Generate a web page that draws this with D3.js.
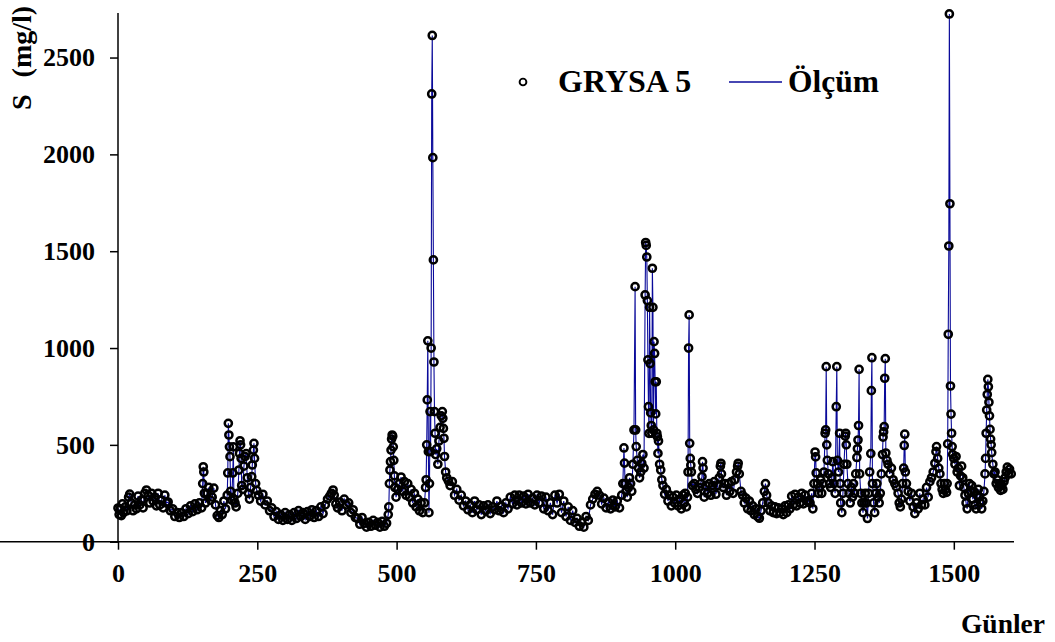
<!DOCTYPE html>
<html>
<head>
<meta charset="utf-8">
<script src="https://cdn.jsdelivr.net/npm/d3@7"></script>
<style>
  html, body { margin: 0; padding: 0; background: #fff; }
  svg { display: block; }
  text { font-family: "Liberation Serif", "Times New Roman", serif; font-weight: bold; fill: #000; }
</style>
</head>
<body>
<svg id="chart" width="1055" height="642"></svg>
<script>
// Day index of each measurement (Günler)
const days = [
  0,2,4,6,8,10,13,16,19,21,
  24,27,30,33,36,39,42,45,48,51,
  54,57,60,63,66,69,72,75,78,81,
  84,87,90,94,98,102,106,110,114,118,
  122,126,130,134,138,142,146,150,152,153,
  154,155,157,160,163,166,169,172,175,178,
  181,184,187,190,193,196,197,198,199,200,
  201,202,204,206,207,208,210,212,215,217,
  218,219,220,221,222,224,226,228,230,232,
  234,236,238,240,241,243,244,245,247,249,
  252,256,260,264,268,272,276,280,284,288,
  292,296,300,304,308,312,316,320,324,328,
  332,336,340,344,348,352,356,360,364,368,
  372,376,380,383,386,388,391,394,398,402,
  406,410,414,418,422,426,430,434,438,442,
  446,450,454,458,462,466,470,474,478,482,
  485,486,487,488,489,490,491,492,493,494,
  495,496,497,499,502,505,508,511,514,517,
  520,523,526,529,532,535,538,541,544,547,
  550,552,553,554,555,556,557,558,559,560,
  561,562,563,564,565,566,567,568,569,570,
  572,574,576,578,580,582,583,584,585,586,
  588,590,593,596,600,604,608,612,616,620,
  624,628,632,636,640,644,648,652,656,660,
  664,668,672,676,680,684,688,692,696,700,
  704,708,712,716,720,724,728,732,736,740,
  744,748,752,756,760,764,768,772,776,780,
  784,788,792,796,800,804,808,812,816,820,
  824,828,832,836,840,844,848,852,856,860,
  864,868,872,876,880,884,888,892,896,900,
  904,906,908,909,910,912,914,916,918,920,
  922,924,926,928,929,930,932,934,936,938,
  940,942,944,946,947,948,949,950,951,952,
  953,954,955,956,957,958,959,960,961,962,
  963,964,965,966,967,968,969,970,972,974,
  976,978,981,984,987,990,993,996,999,1002,
  1005,1008,1011,1014,1016,1018,1020,1022,1023,1024,
  1025,1026,1027,1028,1029,1031,1034,1037,1040,1043,
  1046,1048,1049,1050,1052,1055,1058,1061,1064,1067,
  1070,1073,1076,1079,1081,1082,1083,1086,1089,1092,
  1095,1098,1101,1104,1107,1110,1112,1113,1115,1118,
  1121,1124,1127,1130,1133,1136,1139,1142,1145,1148,
  1151,1154,1157,1160,1162,1164,1167,1170,1173,1176,
  1179,1182,1185,1188,1191,1194,1197,1200,1203,1206,
  1209,1212,1215,1218,1221,1224,1227,1230,1233,1236,
  1239,1242,1245,1247,1249,1251,1252,1253,1255,1257,
  1259,1261,1263,1265,1267,1269,1270,1271,1272,1273,
  1275,1277,1279,1281,1283,1285,1287,1289,1290,1291,
  1293,1295,1296,1297,1299,1301,1303,1305,1306,1307,
  1308,1310,1312,1314,1316,1318,1320,1322,1324,1326,
  1327,1328,1329,1330,1331,1333,1335,1337,1339,1341,
  1343,1345,1347,1349,1351,1352,1353,1354,1356,1358,
  1360,1362,1364,1366,1368,1370,1372,1373,1374,1375,
  1376,1377,1378,1380,1382,1385,1388,1391,1394,1397,
  1400,1402,1404,1406,1408,1410,1411,1412,1413,1415,
  1418,1421,1424,1427,1430,1433,1436,1439,1442,1445,
  1448,1451,1454,1457,1460,1463,1466,1468,1469,1471,
  1473,1475,1477,1479,1481,1483,1485,1487,1488,1489,
  1490,1491,1492,1493,1494,1495,1496,1497,1498,1500,
  1502,1504,1506,1508,1510,1512,1514,1516,1518,1520,
  1522,1524,1526,1528,1530,1532,1534,1536,1538,1540,
  1542,1544,1546,1548,1550,1552,1554,1556,1557,1558,
  1559,1560,1561,1562,1563,1564,1565,1566,1567,1568,
  1570,1572,1574,1576,1578,1580,1582,1584,1586,1588,
  1590,1592,1594,1596,1598,1600,1603
];

// Measured S (mg/l) at each day
const sValues = [
  174,140,170,135,195,150,180,160,230,246,
  200,160,190,170,235,190,215,175,250,267,
  240,200,250,210,230,185,250,190,215,175,
  240,200,205,160,170,130,150,125,150,130,
  170,145,185,155,195,165,200,175,300,387,
  360,250,200,250,280,215,230,277,190,135,
  125,160,140,210,170,240,355,611,551,490,
  439,260,215,355,490,220,200,180,250,370,
  456,521,500,430,290,270,390,440,455,330,
  250,220,280,336,396,473,508,430,300,265,
  240,210,245,190,210,160,175,130,155,115,
  140,110,150,115,140,110,150,120,160,130,
  150,115,155,130,165,125,160,130,180,145,
  190,220,235,250,267,240,195,175,205,160,
  220,190,200,150,165,125,120,90,125,95,
  75,100,80,110,85,100,75,105,80,95,
  140,180,300,370,413,473,530,551,545,490,
  420,340,280,230,270,300,334,260,310,240,
  300,230,270,200,250,180,220,160,200,150,
  200,280,320,500,732,1037,465,150,300,672,
  465,1000,2312,2614,1983,1455,928,672,560,450,
  480,400,520,590,650,672,637,585,534,440,
  360,330,313,290,310,240,270,215,240,185,
  210,165,190,150,210,165,190,140,185,160,
  190,145,180,165,210,160,185,150,200,170,
  230,195,240,190,240,200,235,195,245,200,
  225,190,240,200,235,170,230,160,200,140,
  240,200,245,150,210,130,180,110,160,100,
  120,80,100,75,130,110,190,220,245,260,
  240,195,225,175,205,170,215,180,210,175,
  240,300,484,406,300,260,230,280,330,300,
  260,400,577,1317,577,491,420,380,330,360,
  405,450,380,1274,1545,1530,1470,1245,939,697,
  559,1210,920,665,600,560,1412,1210,577,1033,
  972,826,660,826,560,542,456,520,400,370,
  320,290,245,270,210,240,185,230,200,240,
  185,220,170,240,200,250,180,230,360,1000,
  1171,508,430,395,360,290,300,270,250,280,
  300,336,413,380,230,290,250,300,240,290,
  310,245,290,330,390,405,350,280,300,240,
  300,260,310,250,320,360,390,405,350,260,
  240,200,225,170,210,160,185,140,170,130,
  121,160,200,260,300,240,200,160,185,150,
  180,145,175,150,170,140,185,150,190,170,
  235,190,245,185,230,200,250,195,240,210,
  210,200,250,170,300,463,438,355,300,250,
  280,320,250,300,360,560,577,904,500,420,
  350,300,280,330,413,300,250,697,904,420,
  360,560,300,200,150,250,400,545,560,500,
  400,300,250,200,280,230,300,250,350,435,
  480,525,600,890,350,250,200,150,200,250,
  200,120,250,360,455,780,950,300,200,150,
  250,300,230,200,250,350,450,540,567,594,
  844,945,458,420,400,350,380,320,300,283,
  250,200,180,220,300,380,497,555,360,300,
  260,210,250,180,145,200,170,250,190,220,
  190,280,230,310,330,360,405,465,491,430,
  380,350,300,270,250,300,270,255,300,505,
  1071,1527,2725,1745,804,659,560,491,450,430,
  400,440,360,380,290,340,390,330,280,240,
  200,170,250,300,260,290,220,260,190,170,
  240,270,230,200,170,210,260,350,430,560,
  680,760,838,800,720,650,580,530,500,460,
  400,350,360,300,320,280,300,265,290,270,
  310,330,360,385,350,375,350
];

const xTicks = [0, 250, 500, 750, 1000, 1250, 1500];
const yTicks = [0, 500, 1000, 1500, 2000, 2500];
const xDomain = [0, 1608];
const yDomain = [0, 2730];
const seriesMarkerLabel = "GRYSA 5";
const seriesLineLabel = "Ölçüm";
const xTitle = "Günler";
const yTitleMain = "S";
const yTitleUnit = "(mg/l)";

const n = Math.min(days.length, sValues.length);
const data = d3.range(n).map(i => ({ day: days[i], s: sValues[i] }));

const svg = d3.select("#chart");
const x = d3.scaleLinear().domain(xDomain).range([118, 1014]);
const y = d3.scaleLinear().domain(yDomain).range([541.7, 13]);

// Measurement line
const line = d3.line().x(d => x(d.day)).y(d => y(d.s));
svg.append("path")
  .datum(data)
  .attr("d", line)
  .attr("fill", "none")
  .attr("stroke", "#0a0a9a")
  .attr("stroke-width", 1.1);

// Markers
svg.append("g").selectAll("circle")
  .data(data)
  .join("circle")
  .attr("cx", d => x(d.day))
  .attr("cy", d => y(d.s))
  .attr("r", 3.6)
  .attr("fill", "none")
  .attr("stroke", "#000")
  .attr("stroke-width", 2.5);

// Axes
const xAxis = d3.axisBottom(x).tickValues(xTicks).tickSize(8).tickSizeOuter(0).tickPadding(14).tickFormat(d3.format("d"));
const yAxis = d3.axisLeft(y).tickValues(yTicks).tickSize(8).tickSizeOuter(0).tickPadding(15).tickFormat(d3.format("d"));

const gx = svg.append("g").attr("transform", `translate(0,${y(0)})`).call(xAxis);
const gy = svg.append("g").attr("transform", `translate(${x(0)},0)`).call(yAxis);
[gx, gy].forEach(g => {
  g.selectAll("path.domain").attr("stroke", "#000").attr("stroke-width", 1.5);
  g.selectAll("line").attr("stroke", "#000").attr("stroke-width", 1.5);
  g.selectAll("text").attr("font-family", "Liberation Serif, Times New Roman, serif")
    .attr("font-weight", "bold").attr("font-size", 26).attr("fill", "#000");
});
gy.select("path.domain").attr("d", `M0,${y(yDomain[1])}V${y(0)}`);
gx.select("path.domain").attr("d", `M0,0H${x(xDomain[1])}`);

// Axis titles
svg.append("text")
  .attr("x", 1045).attr("y", 633)
  .attr("text-anchor", "end")
  .attr("font-size", 27.5)
  .text(xTitle);

const yt = svg.append("text")
  .attr("transform", "translate(31,110) rotate(-90)")
  .attr("text-anchor", "start")
  .attr("font-size", 28);
yt.append("tspan").text(yTitleMain);
yt.append("tspan").attr("dx", 17).text(yTitleUnit);

// Legend
const legend = svg.append("g");
legend.append("circle").attr("cx", 523).attr("cy", 82).attr("r", 3.4)
  .attr("fill", "none").attr("stroke", "#000").attr("stroke-width", 1.9);
legend.append("text").attr("x", 558).attr("y", 92).attr("font-size", 32).text(seriesMarkerLabel);
legend.append("line").attr("x1", 729).attr("x2", 782).attr("y1", 82).attr("y2", 82)
  .attr("stroke", "#0a0a9a").attr("stroke-width", 1.3);
legend.append("text").attr("x", 788).attr("y", 92).attr("font-size", 31.5).text(seriesLineLabel);
</script>
</body>
</html>
